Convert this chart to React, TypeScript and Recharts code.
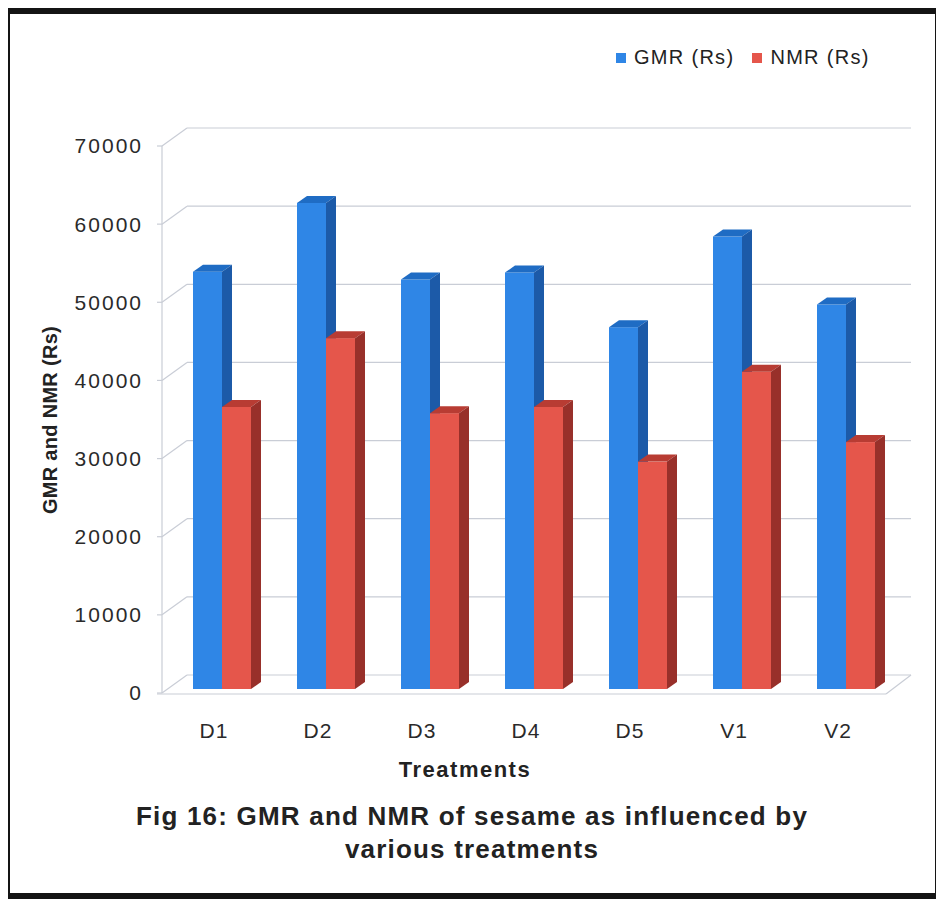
import React from 'react';
import { BarChart, Bar, XAxis, YAxis, CartesianGrid } from 'recharts';

const categories = ['D1', 'D2', 'D3', 'D4', 'D5', 'V1', 'V2'];
const gmrValues = [53400, 62200, 52400, 53300, 46300, 57900, 49200];
const nmrValues = [36100, 44900, 35300, 36100, 29100, 40600, 31600];
const yTicks = [0, 10000, 20000, 30000, 40000, 50000, 60000, 70000];
const seriesNames = ['GMR (Rs)', 'NMR (Rs)'];

const data = categories.map((c, i) => ({ name: c, gmr: gmrValues[i], nmr: nmrValues[i] }));

const FONT = '"Liberation Sans", Arial, sans-serif';
const DX = 25;
const DY = 18;
const GRID = '#c9cdd6';

const makeBar = (front: string, top: string, side: string) => (props: any) => {
  const { x, y, width, height } = props;
  if (width == null || height == null) return <g />;
  const sx = 8;
  const sy = -4;
  const bx = x + sx;
  const by = y + sy;
  const d = 10;
  const e = 7;
  return (
    <g>
      <rect x={bx} y={by} width={width} height={height} fill={front} />
      <polygon
        points={`${bx},${by} ${bx + d},${by - e} ${bx + width + d},${by - e} ${bx + width},${by}`}
        fill={top}
      />
      <polygon
        points={`${bx + width},${by} ${bx + width + d},${by - e} ${bx + width + d},${by + height - e} ${bx + width},${by + height}`}
        fill={side}
      />
    </g>
  );
};

const gridLine = (p: any) => {
  const { x1, x2, y1, index } = p;
  const isZero = Math.abs(y1 - 693) < 3;
  return (
    <g key={`gl-${index}`}>
      <line x1={x1} y1={y1} x2={x1 + DX} y2={y1 - DY} stroke={GRID} strokeWidth={1.2} />
      <line x1={x1 + DX} y1={y1 - DY} x2={x2 + DX - 4} y2={y1 - DY} stroke={GRID} strokeWidth={1.2} />
      {isZero && (
        <g>
          <line x1={x1 - 5} y1={y1 + 1} x2={x2 - 4} y2={y1 + 1} stroke={GRID} strokeWidth={1.2} />
          <line x1={x2 - 4} y1={y1 + 1} x2={x2 + DX - 4} y2={y1 - DY} stroke={GRID} strokeWidth={1.2} />
        </g>
      )}
    </g>
  );
};

const textBase = { fontFamily: FONT, color: '#222' } as const;

export default function App() {
  return (
    <div style={{ position: 'relative', width: 944, height: 900, margin: '-8px 0 0 -8px', background: '#fff' }}>
      <div
        style={{
          position: 'absolute',
          left: 4,
          top: 8,
          width: 937,
          height: 891,
          boxSizing: 'border-box',
          border: '6px solid #141414',
          borderRadius: 5,
        }}
      />
      <div style={{ position: 'absolute', left: 0, top: 0 }}>
        <BarChart
          width={944}
          height={900}
          data={data}
          margin={{ top: 146, right: 54, bottom: 177, left: 102 }}
          barGap={0}
          barCategoryGap={46}
        >
          <CartesianGrid horizontal={gridLine as any} vertical={false} />
          <YAxis
            domain={[0, 70000]}
            ticks={yTicks}
            width={60}
            tickSize={5}
            tickMargin={14}
            axisLine={{ stroke: GRID, strokeWidth: 1.2 }}
            tickLine={{ stroke: GRID, strokeWidth: 1.2 }}
            tick={{ fill: '#2a2a2a', fontSize: 21, fontFamily: FONT, letterSpacing: 2 }}
            interval={0}
          />
          <XAxis
            dataKey="name"
            height={30}
            axisLine={false}
            tickLine={false}
            tickMargin={24}
            tick={{ fill: '#2a2a2a', fontSize: 21, fontFamily: FONT, letterSpacing: 1 }}
          />
          <Bar dataKey="gmr" name={seriesNames[0]} barSize={29} fill="#2f86e6" isAnimationActive={false}
            shape={makeBar('#2f86e6', '#1f6cc4', '#1c5aa8')} />
          <Bar dataKey="nmr" name={seriesNames[1]} barSize={29} fill="#e5564b" isAnimationActive={false}
            shape={makeBar('#e5564b', '#b83c33', '#98302a')} />
        </BarChart>
      </div>
      <div
        style={{
          ...textBase,
          position: 'absolute',
          left: 616,
          top: 46,
          display: 'flex',
          alignItems: 'center',
          fontSize: 20,
          letterSpacing: 1.3,
          whiteSpace: 'nowrap',
        }}
      >
        <span style={{ width: 10, height: 10, background: '#2f86e6', display: 'inline-block', marginRight: 8 }} />
        <span style={{ marginRight: 18 }}>{seriesNames[0]}</span>
        <span style={{ width: 10, height: 10, background: '#e5564b', display: 'inline-block', marginRight: 8 }} />
        <span>{seriesNames[1]}</span>
      </div>
      <div
        style={{
          ...textBase,
          position: 'absolute',
          left: 50,
          top: 420,
          transform: 'translate(-50%, -50%) rotate(-90deg)',
          whiteSpace: 'nowrap',
          fontWeight: 'bold',
          fontSize: 20,
          letterSpacing: 0.3,
        }}
      >
        GMR and NMR (Rs)
      </div>
      <div
        style={{
          ...textBase,
          position: 'absolute',
          left: 0,
          width: 930,
          top: 757,
          textAlign: 'center',
          fontWeight: 'bold',
          fontSize: 22,
          letterSpacing: 1.5,
        }}
      >
        Treatments
      </div>
      <div
        style={{
          ...textBase,
          position: 'absolute',
          left: 0,
          width: 944,
          top: 800,
          textAlign: 'center',
          fontWeight: 'bold',
          fontSize: 26,
          letterSpacing: 1.2,
          lineHeight: '33px',
        }}
      >
        Fig 16: GMR and NMR of sesame as influenced by
        <br />
        various treatments
      </div>
    </div>
  );
}
